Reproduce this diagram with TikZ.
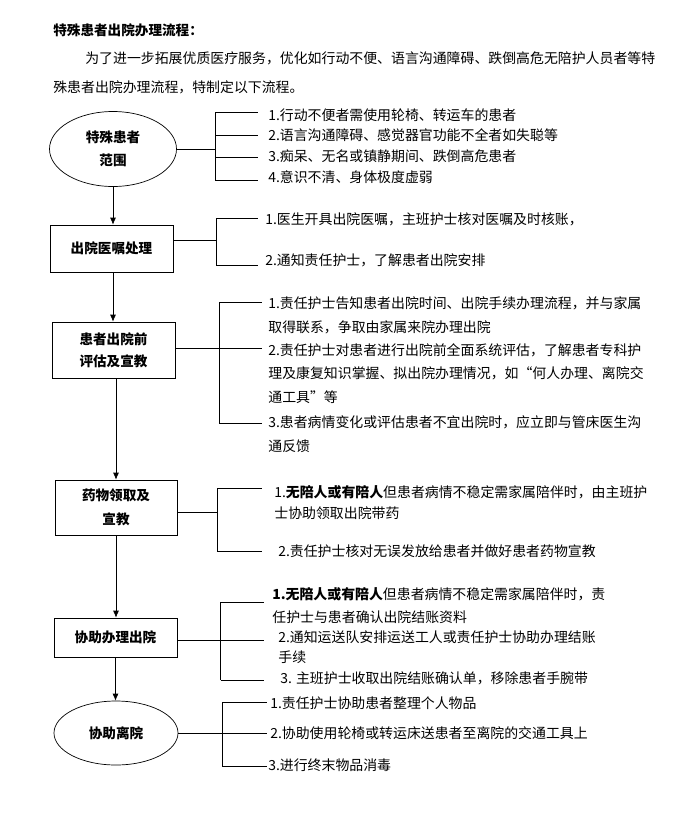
\documentclass[tikz,border=0pt]{standalone}
\usepackage{fontspec}
\setmainfont{Noto Sans CJK SC}
\usetikzlibrary{shapes,arrows.meta}

\begin{document}
\begin{tikzpicture}[x=1pt, y=-1pt, line width=0.7pt,
    oval/.style={draw, ellipse, inner sep=0pt, align=center, font=\bfseries\fontsize{13.6}{23}\selectfont},
    box/.style={draw, rectangle, inner sep=0pt, align=center, font=\bfseries\fontsize{13.6}{23}\selectfont},
    item/.style={anchor=west, inner sep=0pt, align=left, font=\fontsize{13.9}{23.5}\selectfont},
    arr/.style={-{Latex[length=7pt,width=6pt]}}]
  \useasboundingbox (0,0) rectangle (700,831);

  \node[anchor=west, inner sep=0pt, font=\bfseries\fontsize{13.6}{16}\selectfont] (title) at (53,30) {特殊患者出院办理流程：};
  \node[item, font=\fontsize{13.9}{29}\selectfont] (intro) at (53,72.5)
    {\hspace*{32pt}为了进一步拓展优质医疗服务，优化如行动不便、语言沟通障碍、跌倒高危无陪护人员者等特\\
     殊患者出院办理流程，特制定以下流程。};

  % special patients
  \node[oval, minimum width=127, minimum height=75] (s1) at (113,149) {特殊患者\\范围};
  \coordinate (j1) at (215,149);
  \coordinate (e11) at (258,112);
  \coordinate (e12) at (258,135);
  \coordinate (e13) at (258,157);
  \coordinate (e14) at (258,180);
  \node[item] (t11) at (268,115) {1.行动不便者需使用轮椅、转运车的患者};
  \node[item] (t12) at (268,135) {2.语言沟通障碍、感觉器官功能不全者如失聪等};
  \node[item] (t13) at (268,156) {3.痴呆、无名或镇静期间、跌倒高危患者};
  \node[item] (t14) at (268,177) {4.意识不清、身体极度虚弱};
  \draw (s1) -- (j1);
  \draw (j1 |- e11) -- (j1 |- e14);
  \draw (j1 |- e11) -- (e11);
  \draw (j1 |- e12) -- (e12);
  \draw (j1 |- e13) -- (e13);
  \draw (j1 |- e14) -- (e14);

  % discharge orders
  \node[box, minimum width=123, minimum height=47] (s2) at (111.5,248.5) {出院医嘱处理};
  \coordinate (j2) at (216,240);
  \coordinate (e21) at (258,218);
  \coordinate (e22) at (258,265);
  \node[item] (t21) at (265,219) {1.医生开具出院医嘱，主班护士核对医嘱及时核账，};
  \node[item] (t22) at (265,260) {2.通知责任护士，了解患者出院安排};
  \draw (s2.east |- j2) -- (j2);
  \draw (j2 |- e21) -- (j2 |- e22);
  \draw (j2 |- e21) -- (e21);
  \draw (j2 |- e22) -- (e22);

  % assessment
  \node[box, minimum width=123, minimum height=56, font=\bfseries\fontsize{13.6}{22}\selectfont] (s3) at (113.5,350) {患者出院前\\评估及宣教};
  \coordinate (j3) at (219,348);
  \coordinate (e31) at (262,302);
  \coordinate (e32) at (262,348);
  \coordinate (e33) at (262,423);
  \node[item] (t31) at (268,315.5) {1.责任护士告知患者出院时间、出院手续办理流程，并与家属\\取得联系，争取由家属来院办理出院};
  \node[item] (t32) at (268,373.5) {2.责任护士对患者进行出院前全面系统评估，了解患者专科护\\理及康复知识掌握、拟出院办理情况，如“何人办理、离院交\\通工具”等};
  \node[item] (t33) at (268,434) {3.患者病情变化或评估患者不宜出院时，应立即与管床医生沟\\通反馈};
  \draw (s3.east |- j3) -- (j3);
  \draw (j3 |- e31) -- (j3 |- e33);
  \draw (j3 |- e31) -- (e31);
  \draw (j3 |- e32) -- (e32);
  \draw (j3 |- e33) -- (e33);

  % medicine
  \node[box, minimum width=122, minimum height=55, font=\bfseries\fontsize{13.6}{24}\selectfont] (s4) at (116,507.5) {药物领取及\\宣教};
  \coordinate (j4) at (217,512);
  \coordinate (e41) at (262,488);
  \coordinate (e42) at (262,551);
  \node[item] (t41) at (274,502.5) {1.{\bfseries 无陪人或有陪人}但患者病情不稳定需家属陪伴时，由主班护\\[-2.5pt]士协助领取出院带药};
  \node[item] (t42) at (278,551) {2.责任护士核对无误发放给患者并做好患者药物宣教};
  \draw (s4.east |- j4) -- (j4);
  \draw (j4 |- e41) -- (j4 |- e42);
  \draw (j4 |- e41) -- (e41);
  \draw (j4 |- e42) -- (e42);

  % checkout
  \node[box, minimum width=123, minimum height=39] (s5) at (115.5,637.5) {协助办理出院};
  \coordinate (j5) at (220.5,640);
  \coordinate (e51) at (264,602);
  \coordinate (e52) at (264,640);
  \coordinate (e53) at (264,680);
  \node[item] (t51) at (272,605.5) {{\bfseries 1.无陪人或有陪人}但患者病情不稳定需家属陪伴时，责\\[-0.5pt]任护士与患者确认出院结账资料};
  \node[item] (t52) at (278,647) {2.通知运送队安排运送工人或责任护士协助办理结账\\[-3.5pt]手续};
  \node[item] (t53) at (280,678) {3. 主班护士收取出院结账确认单，移除患者手腕带};
  \draw (s5.east |- j5) -- (j5);
  \draw (j5 |- e51) -- (j5 |- e53);
  \draw (j5 |- e51) -- (e51);
  \draw (j5 |- e52) -- (e52);
  \draw (j5 |- e53) -- (e53);

  % leaving
  \node[oval, minimum width=124, minimum height=64] (s6) at (116,733) {协助离院};
  \coordinate (j6) at (222,733);
  \coordinate (e61) at (267,702);
  \coordinate (e62) at (267,733);
  \coordinate (e63) at (267,766);
  \node[item] (t61) at (270,703) {1.责任护士协助患者整理个人物品};
  \node[item] (t62) at (270,733) {2.协助使用轮椅或转运床送患者至离院的交通工具上};
  \node[item] (t63) at (268,765) {3.进行终末物品消毒};
  \draw (s6) -- (j6);
  \draw (j6 |- e61) -- (j6 |- e63);
  \draw (j6 |- e61) -- (e61);
  \draw (j6 |- e62) -- (e62);
  \draw (j6 |- e63) -- (e63);

  \draw[arr] (s1.south) -- (s1.south |- s2.north);
  \draw[arr] (s2.south -| s1.south) -- (s1.south |- s3.north);
  \draw[arr] (s3.south -| s4.north) -- (s4.north);
  \draw[arr] (s4.south) -- (s4.south |- s5.north);
  \draw[arr] (s5.south) -- (s5.south |- s6.north);
\end{tikzpicture}
\end{document}
